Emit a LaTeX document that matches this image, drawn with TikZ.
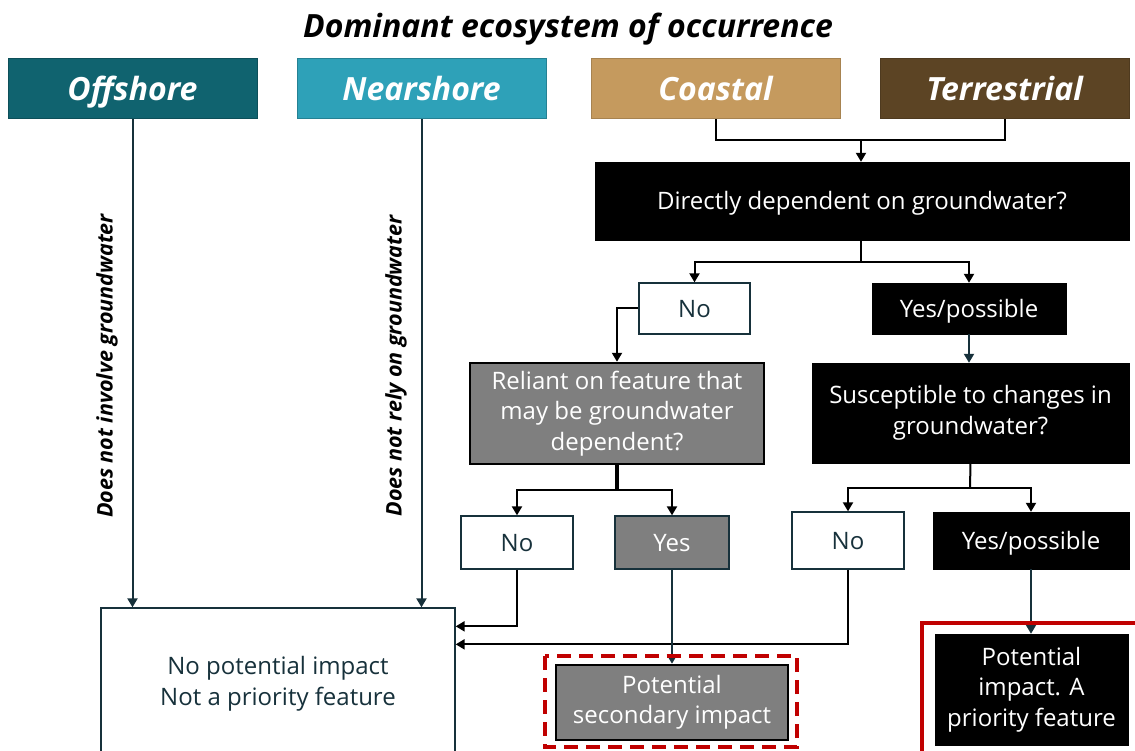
\documentclass[tikz,border=0pt]{standalone}
\usepackage{fontspec}
\setmainfont{Open Sans}
\usetikzlibrary{arrows.meta}
\definecolor{offc}{HTML}{10636F}
\definecolor{nearc}{HTML}{2EA1B8}
\definecolor{coastc}{HTML}{C59A5E}
\definecolor{terrc}{HTML}{5C4424}
\definecolor{slate}{HTML}{17313B}
\definecolor{gfill}{HTML}{7F7F7F}
\definecolor{redf}{HTML}{C00000}
\tikzset{
  base/.style={rectangle, inner sep=0pt, align=center, font=\fontsize{24}{30.5}\selectfont},
  oneline/.style={text height=22.8pt, text depth=5.8pt},
  wbox/.style={base, draw=slate, line width=1.3pt, fill=white, text=slate},
  kbox/.style={base, draw=black, fill=black, text=white},
  gbox/.style={base, draw=black, line width=2.5pt, fill=gfill, text=white},
  hdr/.style={rectangle, inner sep=0pt, text=white, line width=1pt, text height=30.4pt, text depth=7.7pt, font=\fontsize{32}{36}\selectfont\bfseries\itshape, minimum width=249, minimum height=60},
  conn/.style={line width=2pt, draw=black},
  arr/.style={conn, -{Triangle[length=9pt,width=10pt]}},
  sarr/.style={arr, draw=slate},
  vlab/.style={rotate=90, inner sep=0pt, text=black, font=\fontsize{21.5}{24}\selectfont\bfseries\itshape},
  redframe/.style={draw=redf, line width=4pt},
}
\begin{document}
\begin{tikzpicture}[x=1pt,y=-1pt]
\useasboundingbox (0,0) rectangle (1135,751);
\begin{scope}
\clip (0,0) rectangle (1135,751);
\node[font=\fontsize{32}{36}\selectfont\bfseries\itshape, text=black, inner sep=0pt, text height=30.4pt, text depth=7.7pt] (title) at (568,26) {Dominant ecosystem of occurrence};
\node[hdr, fill=offc, draw=offc!80!black] (off) at (132.5,89) {Offshore};
\node[hdr, fill=nearc, draw=nearc!80!black] (near) at (421.5,89) {Nearshore};
\node[hdr, fill=coastc, draw=coastc!85!black] (coast) at (715.5,89) {Coastal};
\node[hdr, fill=terrc, draw=terrc!85!black] (terr) at (1004.5,89) {Terrestrial};

\node[kbox, oneline, minimum width=534, minimum height=78] (direct) at (862,201) {Directly dependent on groundwater?};
\node[wbox, oneline, minimum width=111, minimum height=51] (no1) at (694.5,308.5) {No};
\node[kbox, oneline, minimum width=194, minimum height=51] (yes1) at (969,308.5) {Yes/possible};
\node[gbox, minimum width=294, minimum height=101] (rel) at (617,413.5) {Reliant on feature that\\may be groundwater\\dependent?};
\node[kbox, minimum width=317, minimum height=100] (sus) at (970.5,413) {Susceptible to changes in\\groundwater?};
\node[wbox, oneline, minimum width=112, minimum height=53] (no2) at (517,542.5) {No};
\node[base, oneline, draw=slate, line width=1.3pt, fill=gfill, text=white, minimum width=114, minimum height=53] (yes2) at (672,542.5) {Yes};
\node[wbox, oneline, minimum width=112, minimum height=57] (no3) at (848,540.5) {No};
\node[kbox, oneline, minimum width=196, minimum height=57] (yes3) at (1031,540.5) {Yes/possible};
\node[wbox, minimum width=354, minimum height=152] (nopot) at (278,684) {No potential impact\\Not a priority feature};
\node[gbox, minimum width=232, minimum height=75] (sec) at (672,702.5) {Potential\\secondary impact};
\node[kbox, minimum width=193, minimum height=111] (pot) at (1031.5,689.5) {Potential\\impact. A\\priority feature};

\node[vlab] (lab1) at (107,366) {Does not involve groundwater};
\node[vlab] (lab2) at (396,366) {Does not rely on groundwater};

% connectors
\coordinate (j1) at (861,140);
\draw[conn] (coast.south) |- (j1) -| (terr.south);
\draw[arr] (j1) -- (j1 |- direct.north);
\coordinate (j2) at (861,262);
\draw[conn] (j2 |- direct.south) -- (j2);
\draw[arr] (j2) -| (no1.north);
\draw[arr] (j2) -| (yes1.north);
\draw[arr] (no1.west) -| (rel.north);
\draw[sarr] (yes1.south) -- (yes1.south |- sus.north);
\coordinate (j3) at (617,490);
\draw[conn, line width=3.5pt] (rel.south) -- (j3);
\draw[arr] (j3) -| (no2.north);
\draw[arr] (j3) -| (yes2.north);
\coordinate (j4) at (970,488);
\draw[conn] (sus.south) -- (j4);
\draw[arr] (j4) -| (no3.north);
\draw[arr] (j4) -| (yes3.north);
\draw[sarr] (off.south) -- (off.south |- nopot.north);
\draw[sarr] (near.south) -- (near.south |- nopot.north);
\draw[arr] (no2.south) |- ([yshift=-19pt]nopot.north east);
\draw[arr] (no3.south) |- ([yshift=-37pt]nopot.north east);
\draw[sarr] (yes2.south) -- (sec.north);
\draw[sarr] (yes3.south) -- (yes3.south |- pot.north);

% red frames
\draw[redframe, dash pattern=on 14pt off 8pt] (545,656) rectangle (797,747);
\draw[redframe] (922,623) rectangle (1150,770);
\end{scope}
\end{tikzpicture}
\end{document}
